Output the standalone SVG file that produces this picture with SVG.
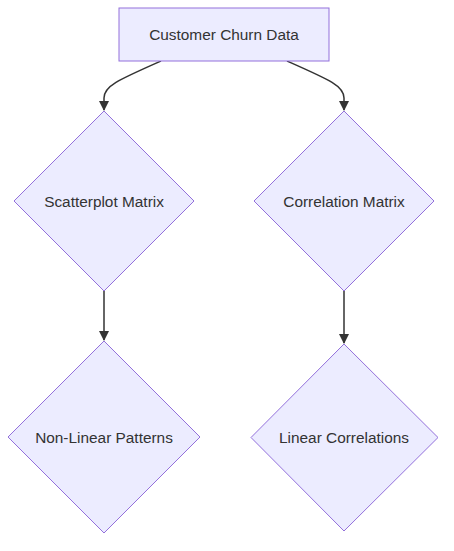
<svg xmlns="http://www.w3.org/2000/svg" width="454" height="551" viewBox="0 0 454 551">
<style>
.node rect,.node polygon{fill:#ECECFF;stroke:#9370DB;stroke-width:1px;}
.node text{font-family:"Liberation Sans",Arial,sans-serif;font-size:15.4px;fill:#333333;text-anchor:middle;dominant-baseline:central;}
.edge{fill:none;stroke:#333333;stroke-width:1.5px;}
</style>
<defs>
<marker id="arrow" viewBox="0 0 10 10" refX="9" refY="5" markerUnits="userSpaceOnUse" markerWidth="10" markerHeight="10" orient="auto">
<path d="M0,0 L10,5 L0,10 z" fill="#333333"/>
</marker>
</defs>
<rect width="454" height="551" fill="#ffffff"/>
<g id="connectors">
<path class="edge" d="M161,61 C118,80 104,86 104,98 L104,110" marker-end="url(#arrow)"/>
<path class="edge" d="M287,61 C330,80 344,86 344,98 L344,110" marker-end="url(#arrow)"/>
<path class="edge" d="M104,291 L104,340" marker-end="url(#arrow)"/>
<path class="edge" d="M344,291 L344,343" marker-end="url(#arrow)"/>
</g>
<g id="node-A" class="node">
<rect x="119" y="8" width="210" height="53"/>
<text x="224" y="34.5">Customer Churn Data</text>
</g>
<g id="node-B" class="node">
<polygon points="104,111 194,201 104,291 14,201"/>
<text x="104" y="201">Scatterplot Matrix</text>
</g>
<g id="node-C" class="node">
<polygon points="344,111 434,201 344,291 254,201"/>
<text x="344" y="201">Correlation Matrix</text>
</g>
<g id="node-D" class="node">
<polygon points="104,341 200,437 104,533 8,437"/>
<text x="104" y="437">Non-Linear Patterns</text>
</g>
<g id="node-E" class="node">
<polygon points="344,344 438,437.5 344,531 251,437.5"/>
<text x="344" y="437.5">Linear Correlations</text>
</g>
</svg>
